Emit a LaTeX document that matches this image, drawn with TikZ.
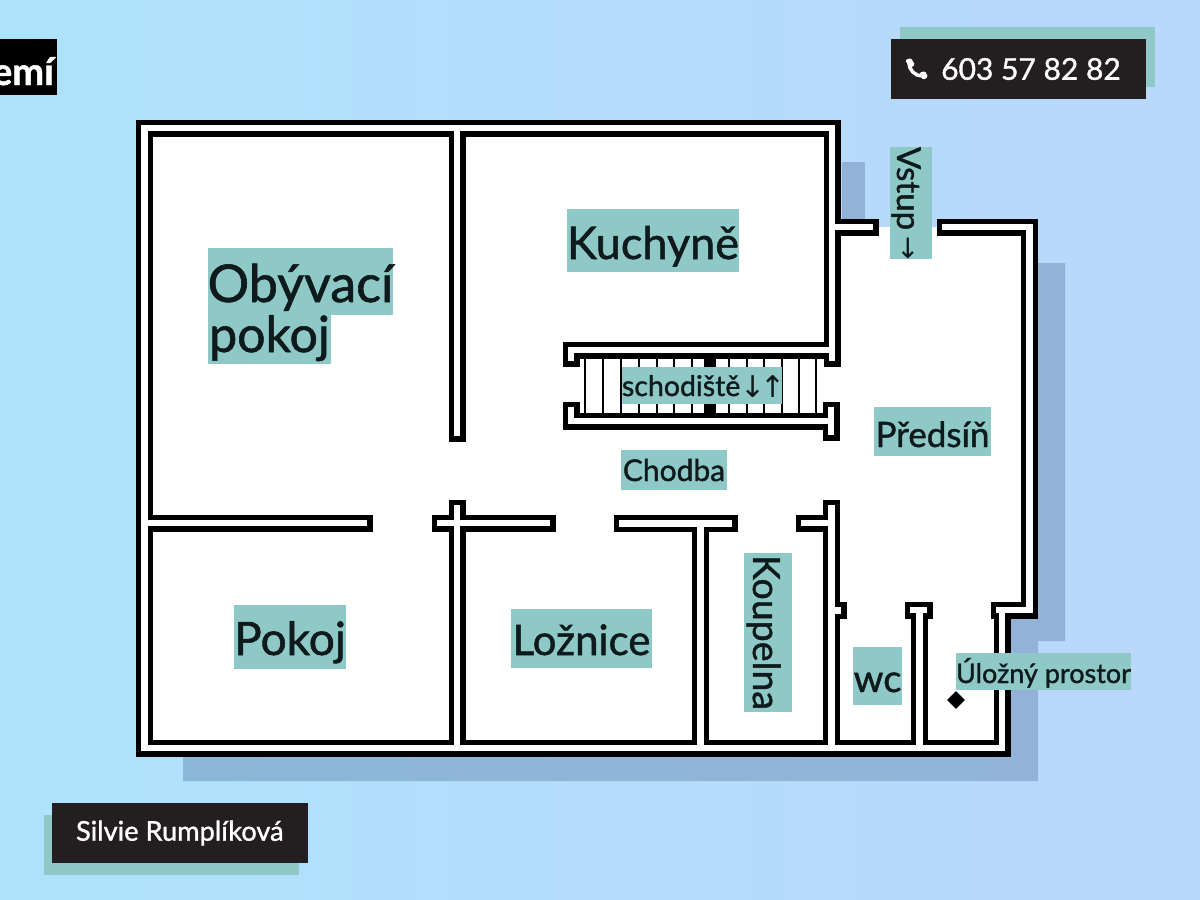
\documentclass[tikz,border=0pt]{standalone}
\usepackage{fontspec}
\setmainfont{Lato}[RawFeature={embolden=1.2}]
\newfontfamily\symfont{DejaVu Sans}
\usetikzlibrary{shapes.geometric}
\definecolor{bgL}{HTML}{ADE3FA}
\definecolor{bgR}{HTML}{BAD7FC}
\definecolor{labfill}{HTML}{8FC9C7}
\definecolor{ink}{HTML}{0E1A1C}
\definecolor{dark}{HTML}{231F20}
\definecolor{shadowL}{HTML}{8BB8D8}
\definecolor{shadowR}{HTML}{93B2D8}
\tikzset{
  lab/.style={fill=labfill,text=ink,inner sep=0pt,anchor=center,align=center},
  wallblack/.style={draw=black,line width=17pt,line cap=rect,miter limit=10},
  wallwhite/.style={draw=white,line width=6.5pt,line cap=rect,miter limit=10},
  bar/.style={fill=dark,text=white,inner sep=0pt},
}
\newcommand{\sz}[1]{\fontsize{#1}{#1}\selectfont}
\newcommand{\wallpaths}[1]{%
  \draw[#1] (144.5,128)--(832,128)--(832,358);
  \draw[#1] (832,227)--(870,227);
  \draw[#1] (945,227)--(1029.5,227)--(1029.5,610)--(999,610);
  \draw[#1] (1002,610)--(1002,748)--(144.5,748)--(144.5,128);
  \draw[#1] (457,128)--(457,433);
  \draw[#1] (457,508)--(457,748);
  \draw[#1] (144.5,523)--(364,523);
  \draw[#1] (440,523)--(547,523);
  \draw[#1] (622,523.5)--(729,523.5);
  \draw[#1] (700.5,523.5)--(700.5,748);
  \draw[#1] (831.5,508)--(831.5,748);
  \draw[#1] (804,523)--(831.5,523);
  \draw[#1] (831.5,610.5)--(838,610.5);
  \draw[#1] (913,610)--(924,610);
  \draw[#1] (919.5,610)--(919.5,748);
  \draw[#1] (571,358)--(571,350)--(832,350);
  \draw[#1] (571,410)--(571,421)--(831,421);
  \draw[#1] (831,410)--(831,432);
}
\begin{document}
\begin{tikzpicture}[x=1pt,y=-1pt]
\useasboundingbox (0,0) rectangle (1200,900);
\shade[left color=bgL,right color=bgR] (0,0) rectangle (1200,900);
% shadow
\fill[shadowR] (842,162)--(865,162)--(865,227)--(842,227)--cycle;
\shade[left color=shadowL,right color=shadowR] (1038,263)--(1065,263)--(1065,641)--(1038,641)--(1038,781)--(183,781)--(183,740)--(1011,740)--(1011,617)--(1038,617)--cycle;
% floor
\fill[white] (144.5,128)--(832,128)--(832,227)--(1029.5,227)--(1029.5,610)--(1002,610)--(1002,748)--(144.5,748)--cycle;
% stairs
\foreach \x in {585,603,621,639,657,674,692,729,747,764,782,799,816}
  \draw[black,line width=1.7pt] (\x,350)--(\x,421);
\fill[black] (704,350) rectangle (716,421);
\wallpaths{wallblack}
\wallpaths{wallwhite}
% labels
\node[lab,minimum width=185pt,text height=54pt,text depth=13pt,font=\sz{52}] (obyv) at (300.5,281.5) {Obývací};
\node[lab,minimum width=123pt,text height=37pt,text depth=12pt,font=\sz{50}] (pok) at (269.5,339.5) {pokoj};
\node[lab,minimum width=172pt,text height=50pt,text depth=13pt,font=\sz{45}] (kuch) at (653,240.5) {Kuchyně};
\node[lab,text height=29pt,text depth=8pt,font=\sz{28.5}] (sch) at (702,385.5) {\makebox[160pt][l]{schodiště\kern.5pt{\symfont\sz{30}\raisebox{-1pt}{↓}\kern-6pt\raisebox{-1pt}{↑}}}};
\node[lab,minimum width=106pt,text height=31pt,text depth=9pt,font=\sz{30}] (chod) at (674,470) {Chodba};
\node[lab,minimum width=117pt,text height=40pt,text depth=9pt,font=\sz{35}] (pred) at (932.5,431.5) {Předsíň};
\node[lab,minimum width=112pt,text height=50pt,text depth=14pt,font=\sz{46}] (pokoj2) at (290,637) {Pokoj};
\node[lab,minimum width=141pt,text height=46pt,text depth=13pt,font=\sz{42}] (lozn) at (581.5,638.5) {Ložnice};
\node[lab,minimum width=159pt,text height=39pt,text depth=9pt,font=\sz{37.5},rotate=-90] (koup) at (768,632.5) {Koupelna};
\node[lab,minimum width=49pt,text height=45pt,text depth=13pt,font=\sz{38}] (wc) at (877.5,676) {wc};
\node[lab,minimum width=173pt,text height=30pt,text depth=7pt,font=\sz{27}] (ulo) at (1043.5,671.5) {Úložný prostor};
\node[lab,text height=35pt,text depth=7pt,font=\sz{33},rotate=-90] (vstup) at (911,203) {\makebox[112pt][l]{Vstup\kern6pt{\symfont\sz{28}\raisebox{2pt}{→}}}};
\node[fill=black,diamond,minimum width=18pt,minimum height=18pt,inner sep=0pt] (dia) at (956,700) {};
% phone
\fill[labfill] (900,27) rectangle (1155,87);
\node[bar,minimum width=255pt,minimum height=60pt] (phonebar) at (1018.5,69) {};
\node[text=white,inner sep=0pt,anchor=west,font=\sz{30}] (phone) at (941,69) {603 57 82 82};
\draw[white,line width=3.5pt] (909,63) .. controls (909,70) and (915,76) .. (922,76);
\fill[white,rounded corners=1.5pt] (905,60)--(911,58)--(915,65)--(910,68)--cycle;
\fill[white,rounded corners=1.5pt] (919,73)--(925,71)--(928,77)--(923,80)--cycle;
% author
\fill[labfill] (43.5,815) rectangle (298.5,875);
\node[bar,minimum width=255.5pt,minimum height=60pt,font=\sz{27.2}] (author) at (179.8,833) {Silvie Rumplíková};
% top-left tab
\fill[black] (0,39) rectangle (56.5,95);
\node[text=white,inner sep=0pt,anchor=base east,font=\sz{38}\bfseries] (tab) at (54,85) {emí};
\end{tikzpicture}
\end{document}
